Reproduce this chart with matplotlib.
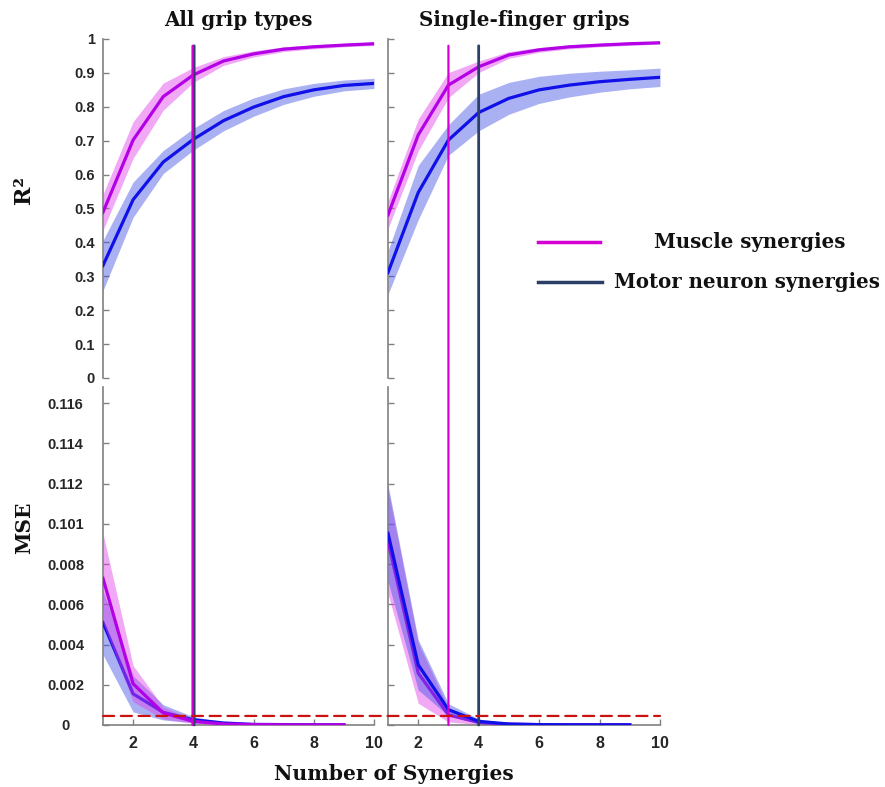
import numpy as np
import matplotlib
matplotlib.use("Agg")
import matplotlib.pyplot as plt
from matplotlib.patches import ConnectionPatch
from matplotlib.transforms import offset_copy

# ---------------- data ----------------
n_syn = [1, 2, 3, 4, 5, 6, 7, 8, 9, 10]

# R^2 - All grip types
r2_all_mus = [0.489, 0.702, 0.830, 0.894, 0.935, 0.956, 0.970, 0.977, 0.982, 0.986]
r2_all_mus_sd = [0.053, 0.054, 0.040, 0.022, 0.013, 0.009, 0.007, 0.006, 0.005, 0.005]
r2_all_mn = [0.332, 0.526, 0.637, 0.704, 0.759, 0.799, 0.830, 0.850, 0.863, 0.869]
r2_all_mn_sd = [0.074, 0.052, 0.034, 0.032, 0.030, 0.027, 0.023, 0.019, 0.016, 0.015]

# R^2 - Single-finger grips
r2_sf_mus = [0.481, 0.717, 0.864, 0.918, 0.953, 0.968, 0.977, 0.982, 0.986, 0.989]
r2_sf_mus_sd = [0.040, 0.047, 0.037, 0.017, 0.010, 0.007, 0.006, 0.005, 0.005, 0.004]
r2_sf_mn = [0.311, 0.547, 0.702, 0.783, 0.825, 0.850, 0.864, 0.874, 0.881, 0.887]
r2_sf_mn_sd = [0.064, 0.080, 0.045, 0.054, 0.047, 0.040, 0.035, 0.031, 0.028, 0.027]

# MSE - All grip types (1..9 synergies)
n_syn_mse = [1, 2, 3, 4, 5, 6, 7, 8, 9]
mse_all_mus = [0.00729, 0.00205, 0.00060, 0.00018, 0.00005, 0.00002, 0.00001, 0.00001, 0.00001]
mse_all_mus_sd = [0.00222, 0.00090, 0.00030, 0.00010, 0.00004, 0.00002, 0.00001, 0.00001, 0.00001]
mse_all_mn = [0.00509, 0.00155, 0.00063, 0.00026, 0.00010, 0.00003, 0.00002, 0.00001, 0.00001]
mse_all_mn_sd = [0.00160, 0.00090, 0.00038, 0.00015, 0.00006, 0.00003, 0.00002, 0.00001, 0.00001]

# MSE - Single-finger grips
mse_sf_mus = [0.00913, 0.00258, 0.00050, 0.00013, 0.00004, 0.00002, 0.00001, 0.00001, 0.00001]
mse_sf_mus_sd = [0.00260, 0.00150, 0.00035, 0.00010, 0.00003, 0.00002, 0.00001, 0.00001, 0.00001]
mse_sf_mn = [0.00953, 0.00299, 0.00076, 0.00018, 0.00005, 0.00002, 0.00001, 0.00001, 0.00001]
mse_sf_mn_sd = [0.00240, 0.00125, 0.00030, 0.00012, 0.00004, 0.00002, 0.00001, 0.00001, 0.00001]

# chosen number of synergies [muscle, motor neuron]
cutoff_all = [4, 4]
cutoff_sf = [3, 4]
mse_threshold = 0.00045

r2_ticks = [0, 0.1, 0.2, 0.3, 0.4, 0.5, 0.6, 0.7, 0.8, 0.9, 1.0]
r2_ticklabels = ["0", "0.1", "0.2", "0.3", "0.4", "0.5", "0.6", "0.7", "0.8", "0.9", "1"]
mse_ticks = [0, 0.002, 0.004, 0.006, 0.008, 0.010, 0.012, 0.014, 0.016]
mse_ticklabels = ["0", "0.002", "0.004", "0.006", "0.008", "0.101", "0.112", "0.114", "0.116"]
x_ticks = [2, 4, 6, 8, 10]

titles = ["All grip types", "Single-finger grips"]
legend_labels = ["Muscle synergies", "Motor neuron synergies"]

# ---------------- style ----------------
c_mus = "#b400e6"
c_mus_fill = "#e040ec"
c_mn = "#1010e8"
c_mn_fill = "#4452e6"
fill_alpha = 0.45
c_vmus = "#d400d4"
c_vmn = "#2c3f66"
c_red = "#cc1111"
spine_c = "#808080"
tick_txt = "#262626"

W, H = 885, 787
fig = plt.figure(figsize=(W / 100, H / 100), dpi=100)

def ax_px(x0, y0, x1, y1):
    return fig.add_axes([x0 / W, 1 - y1 / H, (x1 - x0) / W, (y1 - y0) / H])

ax_tl = ax_px(103, 39, 374, 378)
ax_tr = ax_px(388, 39, 660, 378)
ax_bl = ax_px(103, 387, 374, 725)
ax_br = ax_px(388, 387, 660, 725)

def style(ax, show_x, show_ylabels):
    for s in ["top", "right"]:
        ax.spines[s].set_visible(False)
    ax.spines["left"].set_color(spine_c)
    ax.spines["bottom"].set_color(spine_c)
    ax.spines["left"].set_linewidth(1.2)
    ax.spines["bottom"].set_linewidth(1.2)
    if not show_x:
        ax.spines["bottom"].set_visible(False)
        ax.tick_params(axis="x", bottom=False, labelbottom=False)
    ax.tick_params(direction="in", color=spine_c, length=4, width=1)
    ax.set_xlim(1, 10)
    if not show_ylabels:
        ax.tick_params(axis="y", labelleft=False)

def band(ax, x, m, sd, lc, fc, z=2):
    m = np.array(m); sd = np.array(sd)
    ax.fill_between(x, m - sd, m + sd, color=fc, alpha=fill_alpha, lw=0, zorder=z)
    ax.plot(x, m, color=lc, lw=2.3, zorder=z + 1)

# R2 panels
for ax, mus, mus_sd, mn, mn_sd in [
    (ax_tl, r2_all_mus, r2_all_mus_sd, r2_all_mn, r2_all_mn_sd),
    (ax_tr, r2_sf_mus, r2_sf_mus_sd, r2_sf_mn, r2_sf_mn_sd),
]:
    band(ax, n_syn, mn, mn_sd, c_mn, c_mn_fill, 2)
    band(ax, n_syn, mus, mus_sd, c_mus, c_mus_fill, 4)
    ax.set_ylim(0, 1)
    ax.set_yticks(r2_ticks)

# MSE panels
for ax, mus, mus_sd, mn, mn_sd, mus_top in [
    (ax_bl, mse_all_mus, mse_all_mus_sd, mse_all_mn, mse_all_mn_sd, True),
    (ax_br, mse_sf_mus, mse_sf_mus_sd, mse_sf_mn, mse_sf_mn_sd, False),
]:
    if mus_top:
        band(ax, n_syn_mse, mn, mn_sd, c_mn, c_mn_fill, 2)
        band(ax, n_syn_mse, mus, mus_sd, c_mus, c_mus_fill, 4)
    else:
        band(ax, n_syn_mse, mus, mus_sd, c_mus, c_mus_fill, 2)
        band(ax, n_syn_mse, mn, mn_sd, c_mn, c_mn_fill, 4)
    ax.set_ylim(0, 0.0168)
    ax.set_yticks(mse_ticks)
    ax.set_xticks(x_ticks)

style(ax_tl, False, True)
style(ax_tr, False, False)
style(ax_bl, True, True)
style(ax_br, True, False)

ax_tl.set_yticklabels(r2_ticklabels)
ax_bl.set_yticklabels(mse_ticklabels)
for ax in [ax_tl, ax_tr, ax_bl, ax_br]:
    for lab in ax.get_yticklabels() + ax.get_xticklabels():
        lab.set_fontfamily("Liberation Sans")
        lab.set_fontweight("bold")
        lab.set_fontsize(10.5)
        lab.set_color(tick_txt)
    ax.tick_params(axis="x", pad=8)
ax_tl.tick_params(axis="y", pad=6)
ax_bl.tick_params(axis="y", pad=27)
for lab in ax_bl.get_yticklabels():
    lab.set_horizontalalignment("center")
for lab in ax_bl.get_xticklabels() + ax_br.get_xticklabels():
    lab.set_fontsize(11.5)

# Vertical cut-off lines spanning both rows
for (ax_t, ax_b, cut) in [(ax_tl, ax_bl, cutoff_all), (ax_tr, ax_br, cutoff_sf)]:
    same = cut[0] == cut[1]
    for xc, col, lw, dx in [(cut[1], c_vmn, 2.0, 0.8 if same else 0),
                            (cut[0], c_vmus, 1.6, -0.8 if same else 0)]:
        tA = offset_copy(ax_t.transData, fig=fig, x=dx, y=0, units="dots")
        tB = offset_copy(ax_b.transData, fig=fig, x=dx, y=0, units="dots")
        cp = ConnectionPatch(xyA=(xc, 0.98), coordsA=tA,
                             xyB=(xc, 0), coordsB=tB,
                             color=col, lw=lw, zorder=10)
        fig.add_artist(cp)

# Threshold dashed line across both MSE panels
cp = ConnectionPatch(xyA=(1, mse_threshold), coordsA=ax_bl.transData,
                     xyB=(10, mse_threshold), coordsB=ax_br.transData,
                     color=c_red, lw=1.6, ls=(0, (5, 3)), zorder=11)
fig.add_artist(cp)

# Titles and labels
serif_b = dict(family="DejaVu Serif", weight="bold", color="#111111")
fig.text(238 / W, 1 - 20 / H, titles[0], ha="center", va="center", fontsize=14.3, **serif_b)
fig.text(524 / W, 1 - 20 / H, titles[1], ha="center", va="center", fontsize=14.3, **serif_b)
fig.text(24 / W, 1 - 190 / H, "R²", ha="center", va="center", rotation=90, fontsize=16, **serif_b)
fig.text(24 / W, 1 - 528 / H, "MSE", ha="center", va="center", rotation=90, fontsize=14.5, **serif_b)
fig.text(394 / W, 1 - 774 / H, "Number of Synergies", ha="center", va="center", fontsize=14.6, **serif_b)

# Legend (manual)
fig.add_artist(plt.Line2D([538 / W, 600 / W], [1 - 242 / H, 1 - 242 / H], color=c_vmus, lw=2.5))
fig.add_artist(plt.Line2D([538 / W, 602 / W], [1 - 282 / H, 1 - 282 / H], color=c_vmn, lw=2.5))
fig.text(750 / W, 1 - 242 / H, legend_labels[0], ha="center", va="center", fontsize=14.2, **serif_b)
fig.text(614 / W, 1 - 282 / H, legend_labels[1], ha="left", va="center", fontsize=14.2, **serif_b)

fig.savefig("out.png", dpi=100)
